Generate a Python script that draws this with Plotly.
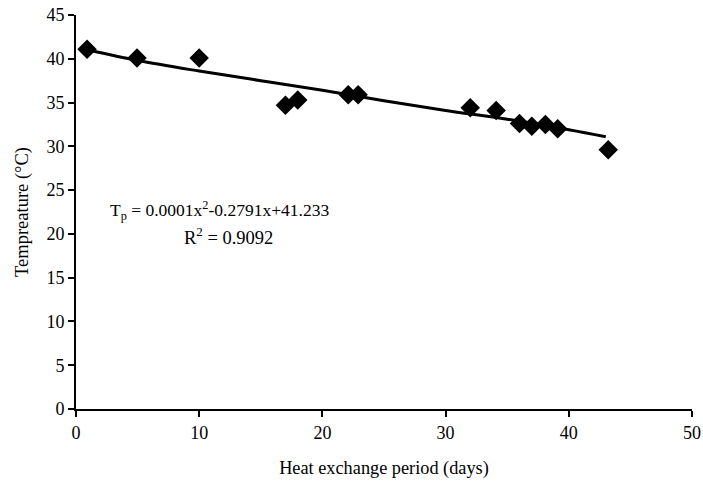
import plotly.graph_objects as go

days = [0.9, 4.95, 10, 17, 18, 22.1, 22.9, 32, 34.1, 36, 37, 38.1, 39.1, 43.2]
temps = [41.1, 40.1, 40.1, 34.7, 35.3, 35.9, 35.9, 34.4, 34.1, 32.6, 32.3, 32.5, 32.0, 29.6]

trend_x = [1, 5, 10, 15, 20, 25, 30, 35, 40, 43]
trend_y = [41.0, 39.8, 38.6, 37.5, 36.4, 35.2, 34.1, 33.1, 31.9, 31.1]

x_ticks = [0, 10, 20, 30, 40, 50]
y_ticks = [0, 5, 10, 15, 20, 25, 30, 35, 40, 45]

font = "Liberation Serif, Times New Roman, serif"

fig = go.Figure()
fig.add_trace(go.Scatter(x=trend_x, y=trend_y, mode="lines",
                         line=dict(color="black", width=3), line_shape="spline",
                         showlegend=False, hoverinfo="skip"))
fig.add_trace(go.Scatter(x=days, y=temps, mode="markers",
                         marker=dict(symbol="diamond", size=15, color="black"),
                         showlegend=False))

fig.add_annotation(x=0.052, y=0.503, xref="paper", yref="paper", xanchor="left", yanchor="middle",
                   text="T<sub>p</sub> = 0.0001x<sup>2</sup>-0.2791x+41.233", showarrow=False,
                   font=dict(family=font, size=17.5, color="black"))
fig.add_annotation(x=0.247, y=0.44, xref="paper", yref="paper", xanchor="center", yanchor="middle",
                   text="R<sup>2</sup> = 0.9092", showarrow=False,
                   font=dict(family=font, size=18.5, color="black"))

axis_common = dict(showgrid=False, zeroline=False, showline=True, linecolor="black", linewidth=2,
                   ticks="outside", tickcolor="black", tickwidth=2, ticklen=6, automargin=False,
                   tickfont=dict(family=font, size=18, color="black"))

fig.update_xaxes(range=[0, 50], tickvals=x_ticks, **axis_common,
                 title=dict(text="Heat exchange period (days)", font=dict(family=font, size=18.3, color="black"), standoff=20))
fig.update_yaxes(range=[0, 45], tickvals=y_ticks, **axis_common,
                 title=dict(text="Tempreature (°C)", font=dict(family=font, size=18.5, color="black"), standoff=13))

fig.update_layout(width=703, height=484, margin=dict(l=76, r=11, t=15, b=75),
                  plot_bgcolor="white", paper_bgcolor="white",
                  font=dict(family=font, color="black"))

fig.write_html("out.html", config={"displayModeBar": False},
               post_script="document.body.style.margin='0';document.body.style.overflow='hidden';")
